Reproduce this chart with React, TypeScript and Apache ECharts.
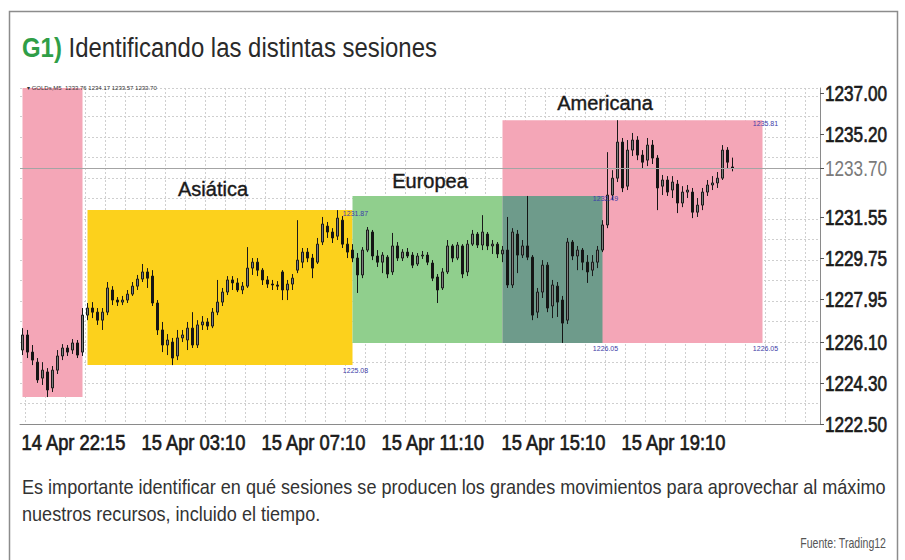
import React, { useEffect, useRef } from "react";
import * as echarts from "echarts";

// ---- data (10-minute candles) ----
const tickIndex = [0, 24, 48, 72, 96, 120];
const tickLabels = ["14 Apr 22:15", "15 Apr 03:10", "15 Apr 07:10", "15 Apr 11:10", "15 Apr 15:10", "15 Apr 19:10"];
const priceLabels = [1237.0, 1235.2, 1233.7, 1231.55, 1229.75, 1227.95, 1226.1, 1224.3, 1222.5];
const currentPrice = 1233.7;

const opens = [
  1225.74, 1226.40, 1225.65, 1225.21, 1224.51, 1224.78, 1224.08, 1224.86, 1225.48, 1225.83,
  1225.74, 1226.05, 1225.65, 1227.27, 1227.58, 1227.40, 1227.05, 1227.40, 1228.37, 1227.93,
  1227.84, 1227.93, 1228.19, 1228.54, 1228.85, 1229.16, 1228.98, 1227.80, 1226.62, 1225.96,
  1226.09, 1225.48, 1226.27, 1226.18, 1226.70, 1225.96, 1226.84, 1226.97, 1226.79, 1227.40,
  1227.84, 1228.28, 1228.81, 1228.68, 1228.37, 1228.54, 1229.33, 1229.59, 1229.24, 1228.81,
  1228.63, 1228.59, 1229.16, 1228.37, 1228.63, 1229.24, 1229.59, 1230.03, 1229.77, 1229.59,
  1230.47, 1231.17, 1230.91, 1230.73, 1231.43, 1230.38, 1230.12, 1229.77, 1229.03, 1230.12,
  1230.91, 1229.86, 1229.59, 1229.81, 1229.16, 1230.30, 1229.77, 1230.03, 1229.90, 1229.51,
  1229.86, 1229.90, 1229.55, 1228.94, 1228.46, 1229.16, 1230.30, 1229.77, 1230.30, 1229.16,
  1230.38, 1230.82, 1230.34, 1230.82, 1230.30, 1230.38, 1229.95, 1230.12, 1228.59, 1230.82,
  1229.90, 1230.30, 1229.81, 1227.40, 1228.28, 1229.46, 1227.67, 1228.54, 1227.93, 1227.05,
  1230.47, 1229.86, 1230.12, 1229.59, 1229.24, 1229.59, 1230.12, 1231.22, 1232.53, 1233.27,
  1234.85, 1232.92, 1234.50, 1234.94, 1234.28, 1234.06, 1234.72, 1234.15, 1232.92, 1233.19,
  1232.75, 1233.01, 1232.18, 1232.66, 1232.66, 1231.78, 1232.09, 1232.66, 1232.97, 1233.06,
  1233.27, 1234.50, 1233.76,
];
const closes = [
  1226.40, 1225.65, 1225.30, 1224.43, 1224.86, 1223.99, 1224.86, 1225.48, 1225.83, 1225.65,
  1226.05, 1225.52, 1227.27, 1227.58, 1227.40, 1227.05, 1227.40, 1228.46, 1227.93, 1227.84,
  1227.93, 1228.19, 1228.54, 1228.85, 1229.16, 1228.89, 1227.80, 1226.62, 1225.96, 1226.18,
  1225.39, 1226.27, 1226.40, 1226.70, 1225.96, 1226.84, 1226.97, 1226.79, 1227.40, 1227.84,
  1228.28, 1228.81, 1228.68, 1228.37, 1228.54, 1229.33, 1229.59, 1229.24, 1228.81, 1228.63,
  1228.59, 1228.54, 1228.37, 1228.63, 1228.89, 1229.68, 1230.03, 1229.77, 1229.33, 1230.38,
  1231.26, 1230.91, 1230.65, 1231.52, 1230.38, 1230.03, 1229.77, 1229.03, 1230.12, 1231.00,
  1229.86, 1229.59, 1229.90, 1229.07, 1230.30, 1229.77, 1230.03, 1229.86, 1229.46, 1229.86,
  1229.90, 1229.59, 1228.89, 1228.37, 1229.16, 1230.30, 1229.77, 1230.34, 1229.07, 1230.38,
  1230.82, 1230.34, 1230.91, 1230.30, 1230.38, 1229.95, 1230.12, 1228.59, 1230.91, 1229.90,
  1230.30, 1229.81, 1227.27, 1228.28, 1229.46, 1227.58, 1228.59, 1227.84, 1226.92, 1230.47,
  1229.86, 1230.12, 1229.59, 1229.16, 1229.59, 1230.12, 1231.22, 1232.53, 1233.27, 1234.85,
  1232.84, 1234.50, 1234.94, 1234.28, 1233.97, 1234.72, 1234.15, 1232.84, 1233.19, 1232.66,
  1233.10, 1232.18, 1232.66, 1232.75, 1231.78, 1232.09, 1232.66, 1232.97, 1233.06, 1233.27,
  1234.50, 1233.97, 1233.70,
];
const lows = [
  1225.52, 1225.39, 1225.08, 1224.30, 1224.21, 1223.68, 1223.90, 1224.69, 1225.30, 1225.48,
  1225.57, 1225.39, 1225.48, 1227.05, 1227.14, 1226.84, 1226.62, 1227.27, 1227.71, 1227.67,
  1227.71, 1227.80, 1228.11, 1228.37, 1228.72, 1228.46, 1227.67, 1226.40, 1225.65, 1225.52,
  1225.08, 1225.30, 1226.09, 1225.74, 1225.83, 1225.83, 1226.62, 1226.62, 1226.70, 1227.27,
  1227.67, 1228.15, 1228.37, 1228.28, 1228.19, 1228.46, 1229.03, 1228.98, 1228.59, 1228.46,
  1228.37, 1228.37, 1227.93, 1227.93, 1228.37, 1229.11, 1229.33, 1229.59, 1228.89, 1229.51,
  1230.34, 1230.65, 1230.43, 1230.56, 1230.21, 1229.77, 1229.59, 1228.24, 1228.89, 1230.03,
  1229.68, 1229.38, 1229.11, 1228.89, 1229.03, 1229.64, 1229.64, 1229.77, 1229.33, 1229.42,
  1229.73, 1229.46, 1228.76, 1227.80, 1228.37, 1229.07, 1229.59, 1229.68, 1228.89, 1228.98,
  1230.30, 1230.21, 1230.12, 1230.12, 1229.95, 1229.77, 1229.59, 1228.46, 1228.46, 1229.11,
  1229.77, 1229.68, 1227.05, 1227.14, 1228.02, 1227.40, 1227.14, 1227.19, 1226.05, 1226.88,
  1229.68, 1229.24, 1229.24, 1228.68, 1228.98, 1229.33, 1230.03, 1231.08, 1232.31, 1233.10,
  1232.66, 1232.75, 1234.24, 1234.06, 1233.71, 1233.80, 1233.89, 1231.87, 1232.53, 1232.49,
  1232.40, 1231.74, 1232.00, 1232.40, 1231.52, 1231.57, 1231.87, 1232.49, 1232.75, 1232.84,
  1233.19, 1233.71, 1233.57,
];
const highs = [
  1226.70, 1226.62, 1225.96, 1225.39, 1225.21, 1224.95, 1225.04, 1225.74, 1226.00, 1225.96,
  1226.22, 1226.18, 1227.58, 1227.80, 1227.84, 1227.58, 1227.58, 1228.72, 1228.54, 1228.06,
  1228.11, 1228.37, 1228.72, 1229.03, 1229.51, 1229.33, 1229.24, 1227.93, 1226.97, 1226.44,
  1226.27, 1226.62, 1226.62, 1226.97, 1227.40, 1227.05, 1227.23, 1227.14, 1227.58, 1228.81,
  1228.46, 1228.98, 1228.98, 1228.89, 1228.72, 1230.25, 1229.77, 1229.77, 1229.33, 1228.98,
  1228.81, 1228.76, 1229.24, 1228.81, 1229.07, 1231.43, 1230.21, 1230.21, 1229.95, 1230.65,
  1231.57, 1231.35, 1231.08, 1231.87, 1231.61, 1230.65, 1230.38, 1229.99, 1230.25, 1231.13,
  1231.00, 1230.12, 1230.03, 1229.90, 1230.87, 1230.47, 1230.16, 1230.21, 1230.03, 1229.99,
  1230.08, 1230.03, 1229.68, 1229.07, 1229.33, 1230.56, 1230.38, 1230.47, 1230.38, 1230.56,
  1231.00, 1230.91, 1231.65, 1230.91, 1230.56, 1230.47, 1230.30, 1231.57, 1231.08, 1231.00,
  1230.56, 1232.49, 1229.90, 1228.46, 1229.68, 1229.59, 1228.81, 1228.72, 1228.11, 1230.65,
  1230.56, 1230.30, 1230.21, 1229.90, 1229.90, 1230.30, 1231.43, 1234.41, 1233.62, 1235.81,
  1235.03, 1234.94, 1235.25, 1235.11, 1234.50, 1235.03, 1234.94, 1234.28, 1233.41, 1233.36,
  1233.36, 1233.19, 1232.92, 1232.97, 1232.84, 1232.40, 1232.84, 1233.19, 1233.36, 1233.54,
  1234.72, 1234.63, 1234.17,
];

// sessions: previous, Asian, European, American (candle index ranges)
const sessionNames = ["Previa", "Asiática", "Europea", "Americana"];
const sessionStart = [0, 13, 66, 96];
const sessionEnd = [12, 66, 116, 148];

const titleCode = "G1)";
const titleText = "Identificando las distintas sesiones";
const captionLines = [
  "Es importante identificar en qué sesiones se producen los grandes movimientos para aprovechar al máximo",
  "nuestros recursos, incluido el tiempo.",
];
const sourceText = "Fuente: Trading12";

const SLOT_COUNT = 160;
const Y_MIN = 1222.5;
const Y_MAX = 1237.22;

const SANS = '"Liberation Sans", Arial, sans-serif';

const PINK = "#f4a6b7";
const YELLOW = "#fcd11c";
const GREEN = "#90cf8d";
const TEAL = "#6e9b8b";
const LABEL_BLUE = "#3c3ca8";

function rangeOf(s: number, e: number): [number, number] {
  const h = highs.slice(s, e + 1);
  const l = lows.slice(s, e + 1);
  return [Math.max(...h), Math.min(...l)];
}

let measureCtx: CanvasRenderingContext2D | null = null;
function measure(text: string, size: number, weight = "normal"): number {
  if (!measureCtx) measureCtx = document.createElement("canvas").getContext("2d");
  if (!measureCtx) return text.length * size * 0.5;
  measureCtx.font = `${weight} ${size}px ${SANS}`;
  return measureCtx.measureText(text).width;
}

function buildOption() {
  const categories = Array.from({ length: SLOT_COUNT }, (_, i) => String(i));
  const candles = opens.map((o, i) => [o, closes[i], lows[i], highs[i]]);
  const [, prevLo] = rangeOf(sessionStart[0], sessionEnd[0]);
  const [asHi, asLo] = rangeOf(sessionStart[1], sessionEnd[1]);
  const [euHi, euLo] = rangeOf(sessionStart[2], sessionEnd[2]);
  const [amHi, amLo] = rangeOf(sessionStart[3], sessionEnd[3]);
  const last = opens.length - 1;

  const cornerLabel = (x: number, v: number, dy: number) => ({
    coord: [x, v],
    value: v,
    label: { offset: [3, dy] },
  });

  return {
    animation: false,
    backgroundColor: "#ffffff",
    grid: { left: 20, top: 88, width: 800, height: 336, containLabel: false },
    xAxis: {
      type: "category",
      data: categories,
      boundaryGap: true,
      axisLine: { show: true, lineStyle: { color: "#8a8a8a", width: 1 } },
      axisTick: { show: false },
      axisLabel: { show: false },
      splitLine: {
        show: true,
        interval: (index: number) => index % 4 === 1,
        lineStyle: { color: "#cfcfcf", type: [2, 2], width: 1 },
      },
    },
    yAxis: [
      {
        type: "value",
        position: "right",
        min: Y_MIN,
        max: Y_MAX,
        axisLine: { show: true, lineStyle: { color: "#8a8a8a", width: 1 } },
        axisTick: { show: true, customValues: priceLabels, length: 4, lineStyle: { color: "#555" } },
        axisLabel: { show: false },
        splitLine: { show: false },
      },
      {
        type: "value",
        position: "left",
        min: 0,
        max: 336 / 20.5,
        interval: 1,
        axisLine: { show: false },
        axisTick: { show: false },
        axisLabel: { show: false },
        splitLine: { show: true, lineStyle: { color: "#cfcfcf", type: [2, 2], width: 1 } },
      },
    ],
    series: [
      {
        type: "candlestick",
        yAxisIndex: 0,
        data: candles,
        barWidth: 3,
        itemStyle: {
          color: "#7c7c7c",
          color0: "#151515",
          borderColor: "#1a1a1a",
          borderColor0: "#151515",
          borderWidth: 1,
        },
        markArea: {
          silent: true,
          data: [
            [{ xAxis: sessionStart[0], yAxis: Y_MAX, itemStyle: { color: PINK } }, { xAxis: sessionEnd[0], yAxis: prevLo }],
            [{ xAxis: sessionStart[1], yAxis: asHi, itemStyle: { color: YELLOW } }, { xAxis: sessionEnd[1], yAxis: asLo }],
            [{ xAxis: sessionStart[3], yAxis: amHi, itemStyle: { color: PINK } }, { xAxis: sessionEnd[3], yAxis: amLo }],
            [{ xAxis: sessionStart[2], yAxis: euHi, itemStyle: { color: GREEN } }, { xAxis: sessionStart[3], yAxis: euLo }],
            [{ xAxis: sessionStart[3], yAxis: euHi, itemStyle: { color: TEAL } }, { xAxis: sessionEnd[2], yAxis: euLo }],
          ],
        },
        markLine: {
          silent: true,
          symbol: ["none", "none"],
          label: { show: false },
          lineStyle: { color: "#a4a4a4", type: "solid", width: 1 },
          data: [{ yAxis: closes[last] }],
        },
        markPoint: {
          silent: true,
          symbol: "circle",
          symbolSize: 1,
          itemStyle: { color: "rgba(0,0,0,0)" },
          label: {
            show: true,
            position: "inside",
            formatter: (p: any) => Number(p.value).toFixed(2),
            fontSize: 7,
            fontFamily: SANS,
            color: LABEL_BLUE,
          },
          data: [
            cornerLabel(sessionEnd[1], asHi, 3),
            cornerLabel(sessionEnd[1], asLo, 5),
            cornerLabel(sessionEnd[2], euHi, 3),
            cornerLabel(sessionEnd[2], euLo, 6),
            cornerLabel(sessionEnd[3], amHi, 3),
            cornerLabel(sessionEnd[3], amLo, 6),
          ],
        },
      },
    ],
  };
}

function buildGraphics(chart: any) {
  const last = opens.length - 1;
  const legendText = `GOLDs,M5  ${opens[last].toFixed(2)} ${highs[last].toFixed(2)} ${lows[last].toFixed(2)} ${closes[last].toFixed(2)}`;

  // condensed look: horizontal scaling of Liberation Sans
  const titleW = measure(titleCode, 28, "bold") + measure(" " + titleText, 28);
  const titleScale = 415 / titleW;
  const capScale = 864 / measure(captionLines[0], 20);
  const srcScale = 86 / measure(sourceText, 14);
  const xLabScale = 105 / measure(tickLabels[0], 22);
  const yLabScale = 62 / measure("1237.00", 22);

  const semiBold = { stroke: "#1a1a1a", lineWidth: 0.7 };

  const g: any[] = [
    {
      type: "rect",
      silent: true,
      shape: { x: 9.5, y: 11.5, width: 888, height: 600 },
      style: { fill: "none", stroke: "#8c8c8c", lineWidth: 1.5 },
      z: 100,
    },
    {
      type: "text",
      silent: true,
      x: 22,
      y: 47,
      scaleX: titleScale,
      style: {
        x: 0,
        y: 0,
        verticalAlign: "middle",
        text: `{g|${titleCode}}{t| ${titleText}}`,
        rich: {
          g: { fill: "#2f9e47", fontSize: 28, fontWeight: "bold", fontFamily: SANS },
          t: { fill: "#2a2a2a", fontSize: 28, fontFamily: SANS },
        },
      },
    },
    {
      type: "text",
      silent: true,
      z: 50,
      style: { x: 27, y: 88, verticalAlign: "middle", text: "▾ " + legendText, fontSize: 6, fontFamily: SANS, fill: "#333" },
    },
  ];

  const sessionPos = [null, [213, 189], [430, 181], [605, 103]];
  for (let k = 1; k < 4; k++) {
    const p = sessionPos[k] as number[];
    g.push({
      type: "text",
      silent: true,
      z: 50,
      style: {
        x: p[0],
        y: p[1],
        align: "center",
        verticalAlign: "middle",
        text: sessionNames[k],
        fontSize: 20,
        fontFamily: SANS,
        fill: "#1a1a1a",
        stroke: "#1a1a1a",
        lineWidth: 0.4,
      },
    });
  }

  // x tick labels positioned by the category axis
  tickIndex.forEach((idx, k) => {
    const px = chart.convertToPixel({ xAxisIndex: 0 }, idx);
    g.push({
      type: "text",
      silent: true,
      x: px - 1,
      y: 442,
      scaleX: xLabScale,
      style: { x: 0, y: 0, verticalAlign: "middle", text: tickLabels[k], fontSize: 22, fontFamily: SANS, fill: "#1a1a1a", ...semiBold },
    });
  });

  // y tick labels positioned by the value axis
  priceLabels.forEach((v) => {
    const py = chart.convertToPixel({ yAxisIndex: 0 }, v);
    const isCur = Math.abs(v - currentPrice) < 0.001;
    g.push({
      type: "text",
      silent: true,
      x: 825,
      y: py,
      scaleX: yLabScale,
      style: {
        x: 0,
        y: 0,
        verticalAlign: "middle",
        text: v.toFixed(2),
        fontSize: 22,
        fontFamily: SANS,
        fill: isCur ? "#7a7a7a" : "#1a1a1a",
        ...(isCur ? {} : semiBold),
      },
    });
  });

  captionLines.forEach((line, k) => {
    g.push({
      type: "text",
      silent: true,
      x: 22,
      y: 487 + k * 27,
      scaleX: capScale,
      style: { x: 0, y: 0, verticalAlign: "middle", text: line, fontSize: 20, fontFamily: SANS, fill: "#333" },
    });
  });

  g.push({
    type: "text",
    silent: true,
    x: 886,
    y: 543,
    scaleX: srcScale,
    style: { x: 0, y: 0, align: "right", verticalAlign: "middle", text: sourceText, fontSize: 14, fontFamily: SANS, fill: "#555" },
  });

  return g;
}

export default function App() {
  const ref = useRef<HTMLDivElement>(null);
  useEffect(() => {
    if (!ref.current) return;
    const chart = echarts.init(ref.current, null, { renderer: "svg" });
    chart.setOption(buildOption() as any);
    chart.setOption({ graphic: buildGraphics(chart) } as any);
    return () => chart.dispose();
  }, []);
  return (
    <div
      ref={ref}
      style={{ position: "absolute", left: 0, top: 0, width: 905, height: 560, background: "#ffffff" }}
    />
  );
}
